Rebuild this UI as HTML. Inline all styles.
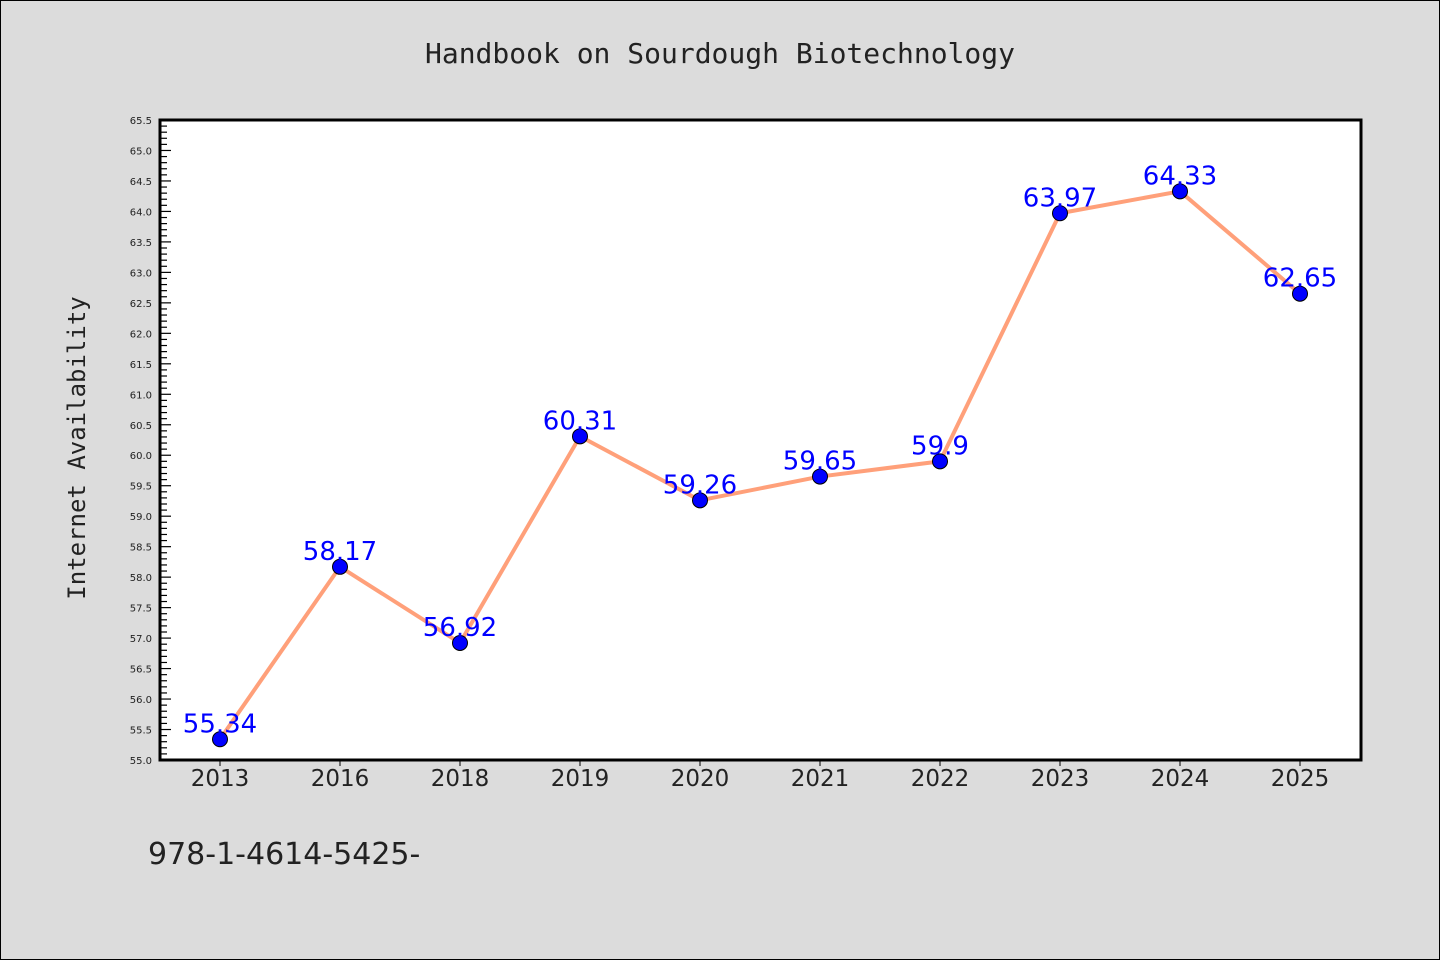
<!DOCTYPE html>
<html><head><meta charset="utf-8"><style>
html,body{margin:0;padding:0;background:#dcdcdc;}
svg{display:block;}
</style></head><body>
<svg width="1440" height="960" xmlns="http://www.w3.org/2000/svg">
<rect x="0.5" y="0.5" width="1439" height="959" fill="#dcdcdc" stroke="#000" stroke-width="1"/>
<text x="720" y="63" text-anchor="middle" font-family="'DejaVu Sans Mono',monospace" font-size="28" fill="#222">Handbook on Sourdough Biotechnology</text>
<rect x="160" y="120" width="1201" height="640" fill="#fff"/>
<g id="yaxis"></g>
<g id="xaxis"></g>
<g id="series"></g>
<rect x="160" y="120" width="1201" height="640" fill="none" stroke="#000" stroke-width="3"/>
<text transform="translate(85,448) rotate(-90)" text-anchor="middle" font-family="'DejaVu Sans Mono',monospace" font-size="24" fill="#222">Internet Availability</text>
<text x="148" y="864" font-family="'DejaVu Sans',sans-serif" font-size="30" fill="#222">978-1-4614-5425-</text>
</svg>
<script>
const categories = ["2013","2016","2018","2019","2020","2021","2022","2023","2024","2025"];
const values = [55.34,58.17,56.92,60.31,59.26,59.65,59.9,63.97,64.33,62.65];
const valueLabels = ["55.34","58.17","56.92","60.31","59.26","59.65","59.9","63.97","64.33","62.65"];
const yMin = 55.0, yMax = 65.5;
const NS="http://www.w3.org/2000/svg";
const L=160,R=1361,T=120,B=760;
function y(v){return B-(v-yMin)/(yMax-yMin)*(B-T);}
function x(i){return 220+i*120;}
function mk(tag,attrs,parent){const e=document.createElementNS(NS,tag);for(const k in attrs)e.setAttribute(k,attrs[k]);parent.appendChild(e);return e;}
const ya=document.getElementById('yaxis');
for(let k=0;k<=Math.round((yMax-yMin)*10);k++){
  const v=yMin+k*0.1, yy=y(v), major=k%5===0;
  const t=mk('line',{x1:L,x2:L+(major?11:7),y1:yy,y2:yy,stroke:'#000','stroke-width':1.2},ya);
  
  
  if(major){
    const tx=mk('text',{x:152,y:yy+4,'text-anchor':'end','font-family':"'DejaVu Sans',sans-serif",'font-size':10,fill:'#222'},ya);
    tx.textContent=v.toFixed(1);
    
    
  }
}
const xa=document.getElementById('xaxis');
categories.forEach((c,i)=>{
  const t=mk('line',{x1:x(i),x2:x(i),y1:B,y2:B+6,stroke:'#000','stroke-width':1},xa);
  
  
  const tx=mk('text',{x:x(i),y:B+26,'text-anchor':'middle','font-family':"'DejaVu Sans',sans-serif",'font-size':23,fill:'#222'},xa);
  tx.textContent=c;
  
  
});
const s=document.getElementById('series');
const pl=mk('polyline',{points:values.map((v,i)=>x(i)+','+y(v)).join(' '),fill:'none',stroke:'#ffa07a','stroke-width':4,'stroke-linejoin':'round'},s);


values.forEach((v,i)=>{
  const c=mk('circle',{cx:x(i),cy:y(v),r:7.5,fill:'#0000ff',stroke:'#000','stroke-width':1},s);
  
  
  const tx=mk('text',{x:x(i),y:y(v)-7,'text-anchor':'middle','font-family':"'DejaVu Sans',sans-serif",'font-size':26,fill:'#0000ff'},s);
  tx.textContent=valueLabels[i];
  
  
});
</script>
</body></html>
